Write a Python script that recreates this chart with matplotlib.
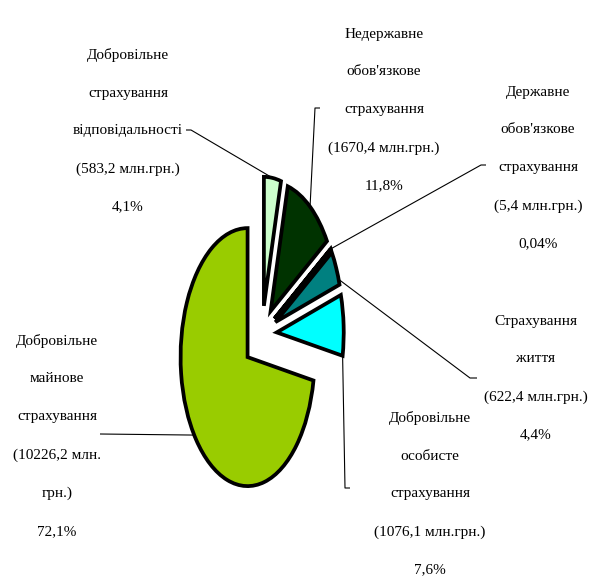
import numpy as np
import matplotlib
matplotlib.use("Agg")
import matplotlib.pyplot as plt
from matplotlib.transforms import IdentityTransform

# data, clockwise from 12 o'clock
names = [
    "Добровільне\nстрахування\nвідповідальності",
    "Недержавне\nобов'язкове\nстрахування",
    "Державне\nобов'язкове\nстрахування",
    "Страхування\nжиття",
    "Добровільне\nособисте\nстрахування",
    "Добровільне\nмайнове\nстрахування",
]
amounts = [583.2, 1670.4, 5.4, 622.4, 1076.1, 10226.2]
shares = [4.1, 11.8, 0.04, 4.4, 7.6, 72.1]

colors = ["#CCFFCC", "#003300", "#339966", "#008080", "#00FFFF", "#99CC00"]
explode = [0.22, 0.22, 0.22, 0.22, 0.22, 0.28]

# layout in pixels (figure is 589x582, y from top)
W, H = 589, 582
CX, CY = 262, 334      # pie centre
RX, RY = 67, 129       # squashed pie radii
label_pos = [(128, 131), (384, 110), (538, 168), (536, 378), (430, 494), (57, 436)]
# where the leader line leaves the label (tick start, tick end)
leader_start = [
    [(186, 130), (191, 130)],
    [(320, 108), (315, 108)],
    [(486, 165), (481, 165)],
    [(477, 378), (470, 378)],
    [(350, 488), (345, 488)],
    [(100, 434), (100, 434)],
]
# position of the anchor along each wedge's arc (0 = lower angle, 1 = upper)
anchor_frac = [0.5, 0.5, 0.5, 0.16, 0.0, 0.49]


def px(x, y):
    return (x - CX) / RX, (CY - y) / RY


def fmt(v):
    return f"{v:g}".replace(".", ",")


fig = plt.figure(figsize=(W / 100, H / 100), dpi=100)
ax = fig.add_axes([0, 0, 1, 1])

wedges, _ = ax.pie(amounts, colors=colors, explode=explode, startangle=90,
                   counterclock=False, radius=1,
                   wedgeprops=dict(edgecolor="black", linewidth=2.7))
ax.set_aspect("auto")
ax.set_xlim(-CX / RX, (W - CX) / RX)
ax.set_ylim(-(H - CY) / RY, CY / RY)
ax.axis("off")

for i, w in enumerate(wedges):
    money = f"({fmt(amounts[i])} млн.грн.)"
    if amounts[i] > 10000:
        money = money.replace("млн.грн.", "млн.\nгрн.")
    txt = f"{names[i]}\n{money}\n{fmt(shares[i])}%"
    lx, ly = label_pos[i]
    ax.text(lx, H - ly, txt, transform=IdentityTransform(), ha="center",
            va="center", multialignment="center", fontsize=11,
            family="Liberation Serif", linespacing=3.45, color="black")

    ang = np.deg2rad(w.theta1 + anchor_frac[i] * (w.theta2 - w.theta1))
    ax_x = w.center[0] + w.r * np.cos(ang)
    ax_y = w.center[1] + w.r * np.sin(ang)
    (x0, y0), (x1, y1) = [px(*p) for p in leader_start[i]]
    ax.plot([x0, x1, ax_x], [y0, y1, ax_y], color="black", lw=0.8,
            solid_capstyle="butt", zorder=0)

fig.savefig("out.png", dpi=100)
